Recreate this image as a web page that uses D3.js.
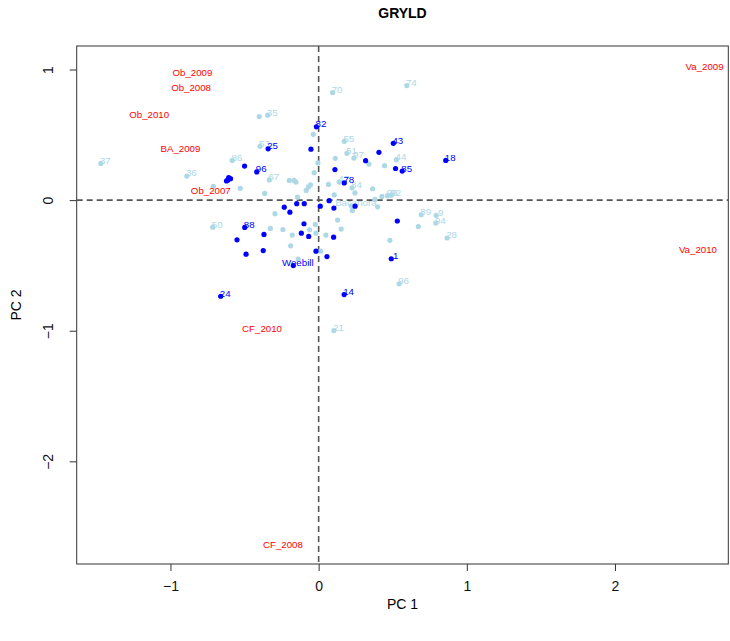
<!DOCTYPE html>
<html><head><meta charset="utf-8">
<script src="https://cdn.jsdelivr.net/npm/d3@7"></script>
<style>body{margin:0;background:#fff}svg{display:block;font-family:"Liberation Sans",Arial,sans-serif}</style>
</head><body>
<svg id="chart" width="730" height="641"></svg>
<script>
// Genotypes (light blue)
const lightNames = ["37","36","86","","","","35","53","67","","","","","","","","","","","","70","74","55","51","97","","","44","","47","","84","","","","","99","92","","Bacanora","","","","","89","9","94","","28","50","","","","","","","","","","","","","96","21"];
const lightX = [-1.470,-0.890,-0.583,-0.711,-0.529,-0.401,-0.344,-0.396,-0.333,-0.364,-0.198,-0.165,-0.153,-0.084,-0.069,-0.055,-0.143,-0.036,-0.005,-0.030,0.094,0.595,0.173,0.191,0.238,0.112,0.339,0.525,0.445,0.139,0.066,0.225,0.245,0.364,0.105,0.427,0.465,0.490,0.380,0.221,0.227,0.398,-0.295,0.128,0.692,0.793,0.791,0.673,0.867,-0.715,-0.326,-0.241,-0.061,-0.023,-0.178,-0.018,0.049,0.152,-0.189,0.481,0.013,-0.138,0.543,0.103];
const lightY = [0.281,0.184,0.304,0.105,0.090,0.640,0.650,0.412,0.155,0.051,0.151,0.151,0.138,0.074,0.101,0.117,0.023,0.504,0.285,0.210,0.824,0.877,0.450,0.358,0.322,0.320,0.276,0.310,0.264,0.138,0.120,0.094,0.055,0.087,0.040,0.028,0.034,0.038,0.005,-0.044,-0.079,-0.051,-0.104,-0.153,-0.112,-0.117,-0.176,-0.202,-0.290,-0.207,-0.217,-0.225,-0.227,-0.186,-0.268,-0.253,-0.268,-0.222,-0.350,-0.308,-0.391,-0.452,-0.641,-0.999];

// Genotypes (dark blue)
const darkNames = ["","","","","","96","25","","82","","43","","","","85","18","78","","","","","","","","","","88","","","","","","","","","","","1","Weebill","24","14"];
const darkX = [-0.612,-0.595,-0.607,-0.622,-0.500,-0.418,-0.341,-0.052,-0.015,0.407,0.504,0.317,0.110,0.519,0.564,0.858,0.173,-0.232,-0.148,-0.097,0.071,0.011,0.103,0.246,-0.194,0.531,-0.499,-0.099,-0.117,-0.067,0.101,-0.369,-0.551,-0.490,-0.374,-0.018,0.056,0.490,-0.171,-0.661,0.172];
const darkY = [0.155,0.164,0.172,0.147,0.261,0.216,0.393,0.390,0.561,0.366,0.435,0.302,0.234,0.242,0.222,0.304,0.132,-0.054,-0.027,-0.027,-0.004,-0.046,-0.061,-0.046,-0.092,-0.160,-0.209,-0.181,-0.253,-0.278,-0.284,-0.263,-0.304,-0.414,-0.386,-0.391,-0.432,-0.449,-0.501,-0.736,-0.723];

// Environments (red labels)
const envNames = ["Ob_2009","Ob_2008","Ob_2010","BA_2009","Ob_2007","Va_2009","Va_2010","CF_2010","CF_2008"];
const envX = [-0.852,-0.861,-1.144,-0.933,-0.728,2.605,2.560,-0.382,-0.241];
const envY = [0.977,0.859,0.655,0.396,0.072,1.020,-0.380,-0.986,-2.640];

const xTicks = [-1,0,1,2];
const yTicks = [-2,-1,0,1];
const xDomain = [-1.633,2.765];
const yDomain = [-2.786,1.18];

const W=730,H=641, L=76.7, R=728.3, T=46, B=564;
const svg = d3.select("#chart");
const x = d3.scaleLinear().domain(xDomain).range([L,R]);
const y = d3.scaleLinear().domain(yDomain).range([B,T]);
const fmt = d => d<0 ? "\u2212"+Math.abs(d) : String(d);

svg.append("defs").append("clipPath").attr("id","clip").append("rect")
  .attr("x",L).attr("y",T).attr("width",R-L).attr("height",B-T);

// Axes
const xa = svg.append("g").attr("transform",`translate(0,${B})`)
  .call(d3.axisBottom(x).tickValues(xTicks).tickFormat(fmt).tickSize(7).tickPadding(10));
const ya = svg.append("g").attr("transform",`translate(${L},0)`)
  .call(d3.axisLeft(y).tickValues(yTicks).tickFormat(fmt).tickSize(7).tickPadding(10));
[xa,ya].forEach(a=>{a.select(".domain").remove();a.selectAll("line").attr("stroke","#333");
  a.selectAll("text").attr("font-size",14).attr("fill","#111").attr("font-family","Liberation Sans, Arial, sans-serif");});
ya.selectAll(".tick text").each(function(){d3.select(this).attr("x",null).attr("text-anchor","middle")
    .attr("transform",`translate(-29,0) rotate(-90)`).attr("dy","0.35em");});

svg.append("rect").attr("x",L).attr("y",T).attr("width",R-L).attr("height",B-T)
  .attr("fill","none").attr("stroke","#333").attr("stroke-width",1);

// Reference dashed lines
const g = svg.append("g").attr("clip-path","url(#clip)");
g.append("line").attr("x1",L).attr("x2",R).attr("y1",y(0)).attr("y2",y(0))
  .attr("stroke","#555").attr("stroke-width",1.6).attr("stroke-dasharray","6,4");
g.append("line").attr("y1",T).attr("y2",B).attr("x1",x(0)).attr("x2",x(0))
  .attr("stroke","#555").attr("stroke-width",1.6).attr("stroke-dasharray","6,4");

const lab = {fs:9.7, dx:4.5, dy:-3};
function drawSet(xs,ys,names,col){
  const data = xs.map((v,i)=>({x:v,y:ys[i],n:names[i]}));
  g.selectAll(null).data(data).enter().append("circle")
    .attr("cx",d=>x(d.x)).attr("cy",d=>y(d.y)).attr("r",2.6).attr("fill",col);
  g.selectAll(null).data(data.filter(d=>d.n)).enter().append("text")
    .attr("x",d=>x(d.x)+lab.dx).attr("y",d=>y(d.y)+lab.dy).attr("dy","0.35em")
    .attr("text-anchor","middle").attr("font-size",lab.fs).attr("fill",col).text(d=>d.n);
}
drawSet(lightX,lightY,lightNames,"#ADD8E6");
drawSet(darkX,darkY,darkNames,"#0000FF");
g.selectAll(null).data(envNames.map((n,i)=>({n,x:envX[i],y:envY[i]}))).enter().append("text")
  .attr("x",d=>x(d.x)).attr("y",d=>y(d.y)).attr("dy","0.35em").attr("text-anchor","middle")
  .attr("font-size",lab.fs).attr("fill","#FF0000").text(d=>d.n);

// Titles
svg.append("text").attr("x",(L+R)/2).attr("y",18).attr("text-anchor","middle")
  .attr("font-size",14).attr("font-weight","bold").text("GRYLD");
svg.append("text").attr("x",(L+R)/2).attr("y",609).attr("text-anchor","middle")
  .attr("font-size",14).text("PC 1");
svg.append("text").attr("transform",`translate(21,${(T+B)/2}) rotate(-90)`).attr("text-anchor","middle")
  .attr("font-size",14).text("PC 2");
</script>
</body></html>
